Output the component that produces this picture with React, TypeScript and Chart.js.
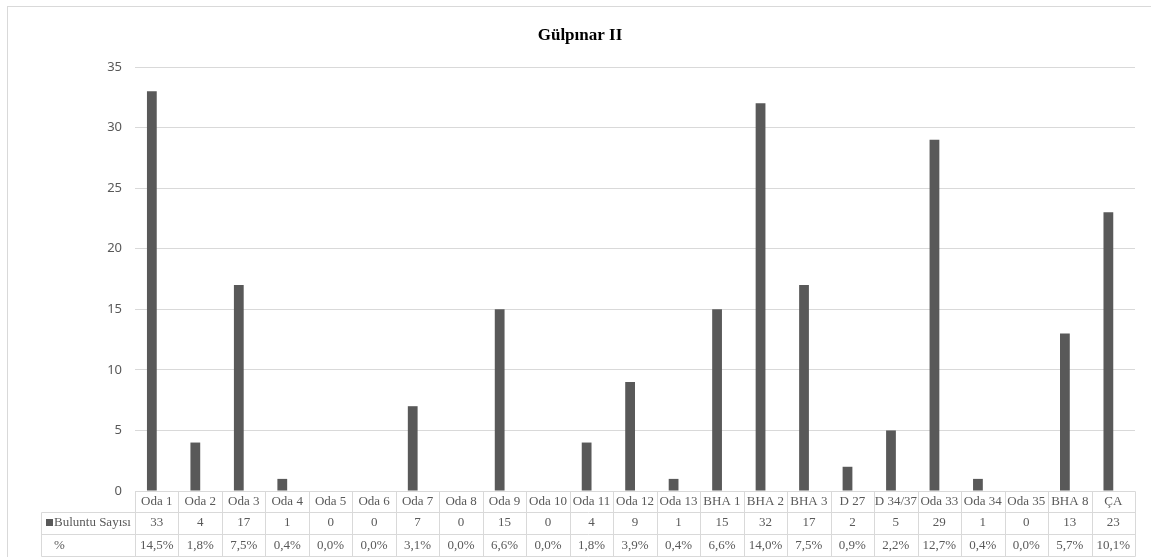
import React, { useEffect, useRef } from "react";
import { Chart, registerables } from "chart.js";

Chart.register(...registerables);

const TITLE = "Gülpınar II";
const categories = [
  "Oda 1", "Oda 2", "Oda 3", "Oda 4", "Oda 5", "Oda 6", "Oda 7", "Oda 8",
  "Oda 9", "Oda 10", "Oda 11", "Oda 12", "Oda 13", "BHA 1", "BHA 2", "BHA 3",
  "D 27", "D 34/37", "Oda 33", "Oda 34", "Oda 35", "BHA 8", "ÇA",
];
const seriesName = "Buluntu Sayısı";
const counts = [33, 4, 17, 1, 0, 0, 7, 0, 15, 0, 4, 9, 1, 15, 32, 17, 2, 5, 29, 1, 0, 13, 23];
const pctLabel = "%";
const percents = [14.5, 1.8, 7.5, 0.4, 0.0, 0.0, 3.1, 0.0, 6.6, 0.0, 1.8, 3.9, 0.4, 6.6, 14.0, 7.5, 0.9, 2.2, 12.7, 0.4, 0.0, 5.7, 10.1];
const yMin = 0;
const yMax = 35;
const yStep = 5;

const GRID = "#d9d9d9";
const BAR = "#595959";
const TEXT = "#595959";
const SERIF = "'Liberation Serif', 'Times New Roman', serif";

const fmtPct = (v: number) => v.toFixed(1).replace(".", ",") + "%";

const tablePlugin = {
  id: "dataTableAndFrame",
  afterDraw(chart: any) {
    const { ctx, chartArea } = chart;
    const n = categories.length;
    const left = chartArea.left;
    const right = chartArea.right;
    const colW = (right - left) / n;
    const top = chartArea.bottom;
    const rowEdges = [top, top + 20.5, top + 42.5, top + 65];
    const legendLeft = 41;
    const px = (v: number) => Math.round(v) + 0.5;

    ctx.save();
    ctx.strokeStyle = GRID;
    ctx.lineWidth = 1;

    // outer chart frame
    ctx.strokeRect(7.5, 6.5, 1160, 620);

    // horizontal lines of the table
    ctx.beginPath();
    ctx.moveTo(px(left), px(rowEdges[0]));
    ctx.lineTo(px(right), px(rowEdges[0]));
    for (let r = 1; r < rowEdges.length; r++) {
      ctx.moveTo(px(legendLeft), px(rowEdges[r]));
      ctx.lineTo(px(right), px(rowEdges[r]));
    }
    // vertical lines
    ctx.moveTo(px(legendLeft), px(rowEdges[1]));
    ctx.lineTo(px(legendLeft), px(rowEdges[3]));
    for (let i = 0; i <= n; i++) {
      const xx = px(left + i * colW);
      ctx.moveTo(xx, px(rowEdges[0]));
      ctx.lineTo(xx, px(rowEdges[3]));
    }
    ctx.stroke();

    // text
    ctx.fillStyle = TEXT;
    ctx.font = `13px ${SERIF}`;
    ctx.textAlign = "center";
    ctx.textBaseline = "middle";
    for (let i = 0; i < n; i++) {
      const cx = left + (i + 0.5) * colW;
      ctx.fillText(categories[i], cx, (rowEdges[0] + rowEdges[1]) / 2 + 0.5);
      ctx.fillText(String(counts[i]), cx, (rowEdges[1] + rowEdges[2]) / 2 + 0.5);
      ctx.fillText(fmtPct(percents[i]), cx, (rowEdges[2] + rowEdges[3]) / 2 + 0.5);
    }
    // legend column
    ctx.textAlign = "left";
    const r1 = (rowEdges[1] + rowEdges[2]) / 2;
    ctx.fillStyle = BAR;
    ctx.fillRect(legendLeft + 5, r1 - 3.5, 7, 7);
    ctx.fillStyle = TEXT;
    ctx.fillText(seriesName, legendLeft + 13, r1 + 0.5);
    ctx.fillText(pctLabel, legendLeft + 13, (rowEdges[2] + rowEdges[3]) / 2 + 0.5);

    // title
    ctx.fillStyle = "#000000";
    ctx.font = `bold 17px ${SERIF}`;
    ctx.textAlign = "center";
    ctx.textBaseline = "alphabetic";
    ctx.fillText(TITLE, 580, 39.5);
    ctx.restore();
  },
};

export default function App() {
  const ref = useRef<HTMLCanvasElement | null>(null);

  useEffect(() => {
    document.body.style.margin = "0";
    const canvas = ref.current;
    if (!canvas) return;
    const chart = new Chart(canvas, {
      type: "bar",
      data: {
        labels: categories,
        datasets: [
          {
            label: seriesName,
            data: counts,
            backgroundColor: BAR,
            categoryPercentage: 0.45,
            barPercentage: 1,
          },
          {
            label: pctLabel,
            data: percents.map((p) => p / 100),
            backgroundColor: "rgba(0,0,0,0)",
            categoryPercentage: 0.45,
            barPercentage: 1,
          },
        ],
      },
      options: {
        animation: false,
        responsive: false,
        maintainAspectRatio: false,
        devicePixelRatio: 1,
        layout: { padding: { left: 0, right: 16, top: 67, bottom: 66 } },
        plugins: {
          legend: { display: false },
          tooltip: { enabled: false },
          title: { display: false },
        },
        scales: {
          x: { display: false, offset: true, grid: { offset: true } },
          y: {
            min: yMin,
            max: yMax,
            ticks: {
              stepSize: yStep,
              padding: 13,
              color: TEXT,
              font: { family: "'Noto Sans', 'Open Sans', sans-serif", size: 13 },
            },
            grid: { color: GRID, drawTicks: false },
            border: { display: false },
            afterFit: (s: any) => {
              s.width = 135;
            },
          },
        },
      },
      plugins: [tablePlugin],
    } as any);
    return () => chart.destroy();
  }, []);

  return (
    <div style={{ position: "absolute", left: 0, top: 0, width: 1151, height: 557, background: "#fff" }}>
      <canvas ref={ref} width={1151} height={557} style={{ display: "block", width: 1151, height: 557 }} />
    </div>
  );
}
